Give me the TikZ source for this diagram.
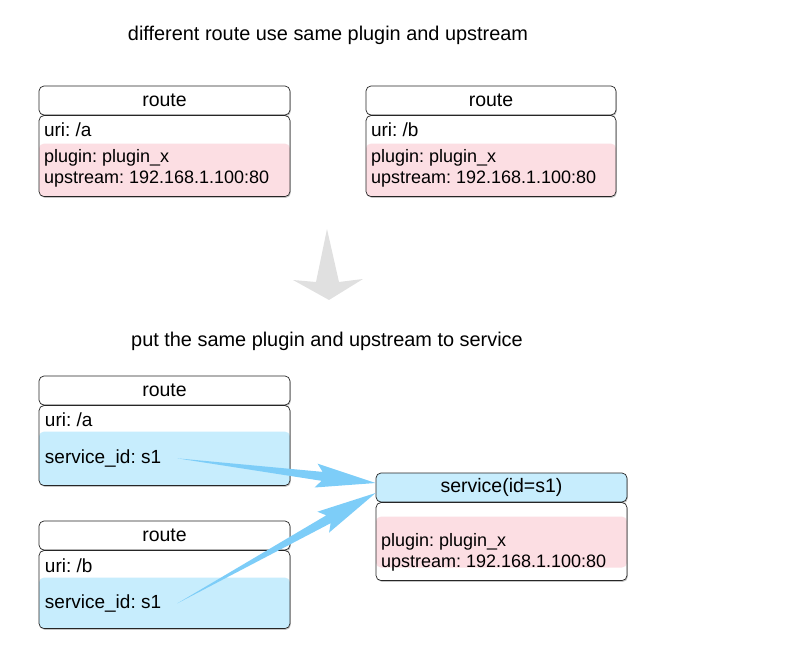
\documentclass[tikz,border=0pt]{standalone}
\usepackage{fontspec}
\setmainfont{Liberation Sans}
\frenchspacing
\usetikzlibrary{positioning,calc,shadows}

\definecolor{pinkband}{RGB}{252,222,227}
\definecolor{blueband}{RGB}{199,237,253}
\definecolor{arrowblue}{RGB}{125,205,248}
\definecolor{downgrey}{RGB}{224,224,224}

\tikzset{
  boxshadow/.style={drop shadow={shadow xshift=0.8pt, shadow yshift=-1.3pt, opacity=0.45}},
  headbox/.style={draw=black!85, line width=0.7pt, rounded corners=5pt, minimum height=29pt, inner sep=0pt, fill=#1, boxshadow, font=\fontsize{19.5}{22}\selectfont},
  fieldbox/.style n args={3}{rounded corners=5pt, inner sep=0pt, fill=white, boxshadow,
    path picture={\fill[#1] ([yshift=-#2]path picture bounding box.north west) rectangle ([yshift=#3]path picture bounding box.south east);},
    postaction={draw=black!85, line width=0.7pt}},
  textline/.style={inner sep=0pt, font=\fontsize{19}{22}\selectfont},
  smallline/.style={inner sep=0pt, font=\fontsize{18}{22}\selectfont},
  titletext/.style={inner sep=0pt, font=\fontsize{19.9}{24}\selectfont},
}

\begin{document}
\begin{tikzpicture}[x=1pt, y=-1pt]
\useasboundingbox (0,0) rectangle (812,647);

\node (title_top) at (328,35) [titletext] {different route use same plugin and upstream};

% first step: two routes with their own plugin and upstream
\node (route_a_head) at (164.5,100.5) [headbox=white, minimum width=251pt] {route};
\node (route_a_body) at (route_a_head.south) [below=0pt, fieldbox={pinkband}{28pt}{0pt}, minimum width=251pt, minimum height=81pt] {};
\node (uri_a) at ([yshift=-14pt]route_a_body.north west) [right=5pt, textline] {uri: /a};
\node (plug_a) at ([yshift=-42pt]route_a_body.north west) [right=5pt, smallline] {plugin: plugin\_x};
\node (up_a) at ([yshift=-64pt]route_a_body.north west) [right=5pt, smallline] {upstream: 192.168.1.100:80};

\node (route_b_head) at (491,100.5) [headbox=white, minimum width=250pt] {route};
\node (route_b_body) at (route_b_head.south) [below=0pt, fieldbox={pinkband}{28pt}{0pt}, minimum width=250pt, minimum height=81pt] {};
\node (uri_b) at ([yshift=-14pt]route_b_body.north west) [right=5pt, textline] {uri: /b};
\node (plug_b) at ([yshift=-42pt]route_b_body.north west) [right=5pt, smallline] {plugin: plugin\_x};
\node (up_b) at ([yshift=-64pt]route_b_body.north west) [right=5pt, smallline] {upstream: 192.168.1.100:80};

\fill[downgrey] (327,229) -- (339,282) -- (363,279) -- (329,300) -- (293,280) -- (316,282) -- cycle;

\node (title_bot) at (327,341) [titletext] {put the same plugin and upstream to service};

% second step: routes point to one service
\node (route_c_head) at (164.5,390.5) [headbox=white, minimum width=251pt] {route};
\node (route_c_body) at (route_c_head.south) [below=0pt, fieldbox={blueband}{26pt}{0pt}, minimum width=251pt, minimum height=80pt] {};
\node (uri_c) at ([yshift=-14pt]route_c_body.north west) [right=6pt, textline] {uri: /a};
\node (sid_c) at ([yshift=-53pt]route_c_body.north west) [right=6pt, textline] {service\_id: s1};

\node (route_d_head) at (164.5,535.5) [headbox=white, minimum width=251pt] {route};
\node (route_d_body) at (route_d_head.south) [below=0pt, fieldbox={blueband}{27pt}{0pt}, minimum width=251pt, minimum height=78pt] {};
\node (uri_d) at ([yshift=-15pt]route_d_body.north west) [right=6pt, textline] {uri: /b};
\node (sid_d) at ([yshift=-53pt]route_d_body.north west) [right=6pt, textline] {service\_id: s1};

\node (svc_head) at (501.5,487.5) [headbox=blueband, minimum width=251pt] {service(id=s1)};
\node (svc_body) at (svc_head.south) [below=0pt, fieldbox={pinkband}{14pt}{13pt}, minimum width=251pt, minimum height=78pt] {};
\node (plug_svc) at ([yshift=-39pt]svc_body.north west) [right=5pt, smallline] {plugin: plugin\_x};
\node (up_svc) at ([yshift=-61pt]svc_body.north west) [right=5pt, smallline] {upstream: 192.168.1.100:80};

\coordinate (tail_c) at ([xshift=16pt]sid_c.east);
\coordinate (tail_d) at ([xshift=16pt]sid_d.east);
\coordinate (tip_c) at ([yshift=4.5pt]svc_head.west);
\coordinate (tip_d) at ([yshift=-5.5pt]svc_head.west);

\foreach \from/\to in {tail_c/tip_c, tail_d/tip_d}{
  \coordinate (joint) at ($(\to)!54pt!(\from)$);
  \coordinate (barb) at ($(\to)!60pt!(\from)$);
  \fill[arrowblue] (\from) -- ($(joint)!4.5pt!90:(\to)$) -- ($(barb)!12pt!90:(\to)$) -- (\to)
    -- ($(barb)!12pt!-90:(\to)$) -- ($(joint)!4.5pt!-90:(\to)$) -- cycle;
}

\end{tikzpicture}
\end{document}
